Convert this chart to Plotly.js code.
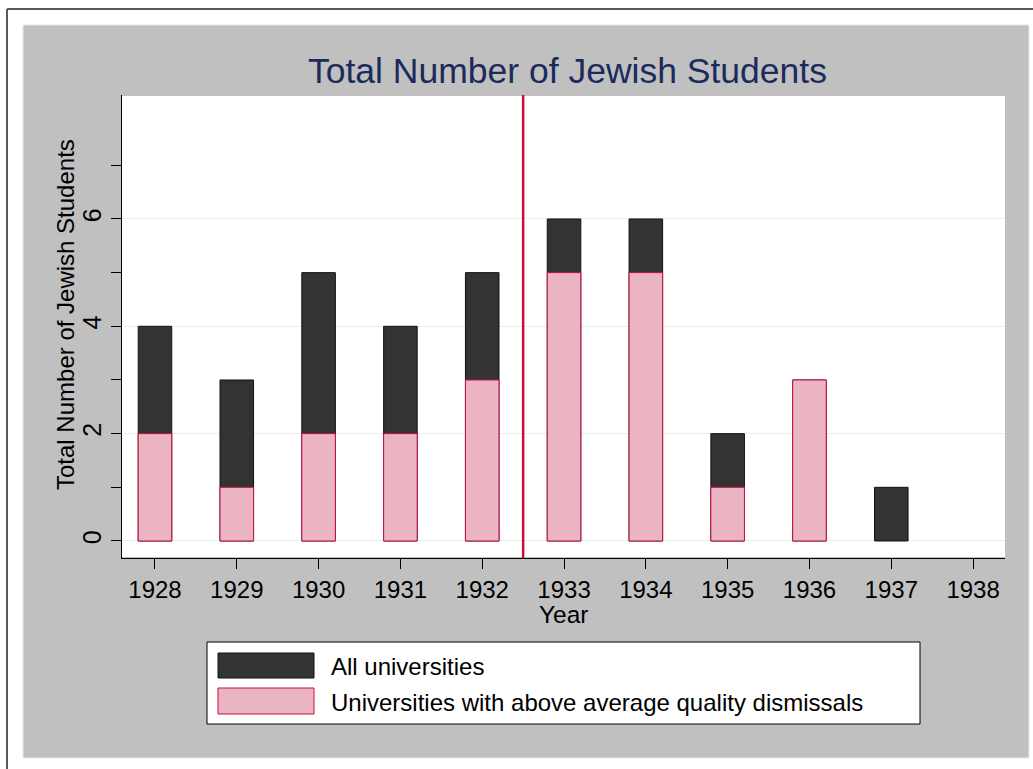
<!DOCTYPE html>
<html>
<head>
<meta charset="utf-8">
<script src="https://cdn.plot.ly/plotly-3.0.1.min.js"></script>
<style>html,body{margin:0;padding:0;background:#fff;}#chart{width:1033px;height:769px;}</style>
</head>
<body>
<div id="chart"></div>
<script>
// ---- data ----
const years = [1928, 1929, 1930, 1931, 1932, 1933, 1934, 1935, 1936, 1937, 1938];
const allUniversities = [4, 3, 5, 4, 5, 6, 6, 2, 3, 1, 0];
const aboveAvgDismissals = [2, 1, 2, 2, 3, 5, 5, 1, 3, 0, 0];
const seriesNames = ["All universities", "Universities with above average quality dismissals"];
const yTickVals = [0, 2, 4, 6];
const yMinorVals = [1, 3, 5, 7];
const cutoffYear = 1932.5;
const chartTitle = "Total Number of Jewish Students";
const xTitle = "Year";
const yTitle = "Total Number of Jewish Students";

const FONT = "Arial, 'Liberation Sans', sans-serif";
const DARK = "#333333";
const PINK = "#ebb4c2";
const CRIMSON = "#c8103e";
const GRAY = "#c0c0c0";

const edge = vals => vals.map(v => (v === 0 ? 0 : 1));

const traces = [
  {type: "bar", x: years, y: allUniversities, name: seriesNames[0], width: 0.41,
   marker: {color: DARK, line: {color: "#111111", width: edge(allUniversities)}}},
  {type: "bar", x: years, y: aboveAvgDismissals, name: seriesNames[1], width: 0.41,
   marker: {color: PINK, line: {color: CRIMSON, width: edge(aboveAvgDismissals)}}}
];

const L = 122, R = 28, T = 95, B = 211, W = 1033, H = 769;
const pw = W - L - R, ph = H - T - B;
const px = v => (v - L) / pw;          // pixel x -> paper
const py = v => (H - B - v) / ph;      // pixel y -> paper

const grayRect = (x0, x1, y0, y1) => ({type: "rect", xref: "paper", yref: "paper", layer: "below",
  x0: px(x0), x1: px(x1), y0: py(y1), y1: py(y0), fillcolor: GRAY, line: {width: 0}});

const shapes = [
  grayRect(23, 1029, 25, 96),
  grayRect(23, 1029, 557, 758),
  grayRect(23, 122, 25, 758),
  grayRect(1005, 1029, 25, 758),
  {type: "rect", xref: "paper", yref: "paper", layer: "below",
   x0: px(23), x1: px(1029), y0: py(758), y1: py(25),
   fillcolor: "rgba(0,0,0,0)", line: {color: "#e2ebec", width: 1}},
  {type: "line", xref: "paper", yref: "paper", x0: px(7), x1: px(1034), y0: py(9), y1: py(9),
   line: {color: "#5a5a5a", width: 2}},
  {type: "line", xref: "paper", yref: "paper", x0: px(7), x1: px(7), y0: py(9), y1: py(770),
   line: {color: "#5a5a5a", width: 2}},
  {type: "line", xref: "x", yref: "paper", x0: cutoffYear, x1: cutoffYear, y0: 0, y1: 1,
   line: {color: CRIMSON, width: 2.5}},
  // legend
  {type: "rect", xref: "paper", yref: "paper", x0: px(207), x1: px(920), y0: py(724), y1: py(642),
   fillcolor: "#ffffff", line: {color: "#000000", width: 1}},
  {type: "rect", xref: "paper", yref: "paper", x0: px(218), x1: px(314), y0: py(678), y1: py(653),
   fillcolor: DARK, line: {color: "#111111", width: 1}},
  {type: "rect", xref: "paper", yref: "paper", x0: px(218), x1: px(314), y0: py(714), y1: py(688),
   fillcolor: PINK, line: {color: CRIMSON, width: 1}}
];

const annotations = [
  {xref: "paper", yref: "paper", x: px(329), y: py(666), xanchor: "left", yanchor: "middle",
   text: seriesNames[0], showarrow: false, font: {family: FONT, size: 24, color: "#000"}},
  {xref: "paper", yref: "paper", x: px(329), y: py(702), xanchor: "left", yanchor: "middle",
   text: seriesNames[1], showarrow: false, font: {family: FONT, size: 24, color: "#000"}},
  {xref: "paper", yref: "paper", x: 0.5, y: py(614), xanchor: "center", yanchor: "middle",
   text: xTitle, showarrow: false, borderpad: 0, font: {family: FONT, size: 24.5, color: "#000"}},
  {xref: "paper", yref: "paper", x: px(65), y: py(315), xanchor: "center", yanchor: "middle",
   textangle: -90, text: yTitle, showarrow: false, font: {family: FONT, size: 24, color: "#000"}}
];

const layout = {
  width: W, height: H,
  margin: {l: L, r: R, t: T, b: B},
  paper_bgcolor: "#ffffff",
  plot_bgcolor: "#ffffff",
  barmode: "overlay",
  showlegend: false,
  font: {family: FONT, size: 24, color: "#000"},
  title: {text: chartTitle, font: {family: FONT, size: 35.5, color: "#1a2b5c"},
          xref: "paper", x: 0.5 + 4 / pw, xanchor: "center", yref: "container", y: 1 - 71 / H, yanchor: "middle"},
  xaxis: {
    range: [1927.597, 1938.39], tickmode: "array", tickvals: years, ticktext: years.map(String),
    ticks: "outside", ticklen: 10, tickwidth: 1, tickcolor: "#000",
    showline: true, linecolor: "#000", linewidth: 1, showgrid: false, zeroline: false,
    tickfont: {family: FONT, size: 24, color: "#000"}
  },
  yaxis: {
    range: [-0.317, 8.31], tickmode: "array", tickvals: yTickVals, ticktext: yTickVals.map(String),
    ticks: "outside", ticklen: 10, tickwidth: 1, tickcolor: "#000", tickangle: -90,
    showline: true, linecolor: "#000", linewidth: 1,
    showgrid: true, gridcolor: "#e6eff0", gridwidth: 1, zeroline: false,
    tickfont: {family: FONT, size: 25, color: "#000"},
    minor: {tickmode: "array", tickvals: yMinorVals, ticks: "outside", ticklen: 10, tickwidth: 1, tickcolor: "#000", showgrid: false}
  },
  shapes: shapes,
  annotations: annotations
};

Plotly.newPlot("chart", traces, layout, {displayModeBar: false, staticPlot: true});
</script>
</body>
</html>
